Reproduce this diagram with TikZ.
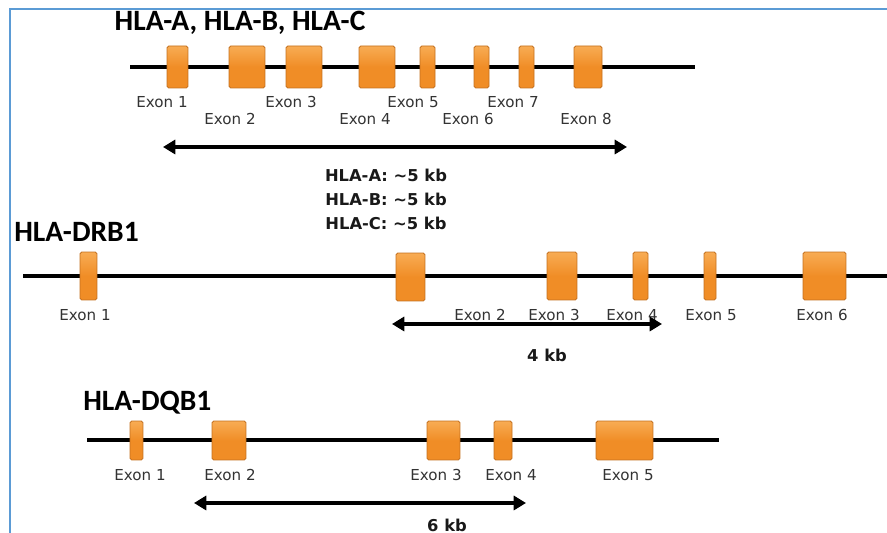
\documentclass[tikz,border=0pt]{standalone}
\usepackage{fontspec}
\setmainfont{DejaVu Sans}
\newfontfamily\titlefont{Carlito}
\usetikzlibrary{arrows.meta}
\definecolor{exonfill}{RGB}{240,141,38}
\definecolor{exonedge}{RGB}{196,112,30}
\definecolor{exonlight}{RGB}{248,172,84}
\definecolor{framecol}{RGB}{91,155,213}

\begin{document}
\begin{tikzpicture}[x=0.02cm, y=-0.02cm,
    gene/.style={line width=2.2pt},
    exon/.style={draw=exonedge, line width=0.5pt, rounded corners=1pt,
      top color=exonlight, bottom color=exonfill, middle color=exonfill,
      inner sep=0pt},
    exontop/.style={exon, minimum height=0.84cm},
    exondrb/.style={exon, minimum height=0.96cm},
    exondqb/.style={exon, minimum height=0.78cm},
    lbl/.style={font=\fontsize{8.6}{10}\selectfont, text=black!80, inner sep=0pt},
    title/.style={font=\titlefont\bfseries\fontsize{16.8}{19}\selectfont, inner sep=0pt},
    size/.style={font=\bfseries\fontsize{9.3}{11}\selectfont, text=black!90, inner sep=0pt},
    span/.style={line width=2.2pt, {Triangle[length=7pt,width=8pt]}-{Triangle[length=7pt,width=8pt]}}]
      \useasboundingbox (0,0) rectangle (887,533);

      % frame on the left and at the top
      \coordinate (f1) at (10,533);
      \coordinate (f2) at (10,9);
      \coordinate (f3) at (887,9);
      \draw[framecol, line width=1.2pt] (f1) -- (f2) -- (f3);

      % HLA-A, HLA-B, HLA-C
      \node[title] (tA) at (240,23) {HLA-A, HLA-B, HLA-C};
      \coordinate (a0) at (130,67);
      \coordinate (a9) at (695,67);
      \draw[gene] (a0) -- (a9);

      \node[exontop, minimum width=0.42cm] (a1) at (177.5,67) {};
      \node[exontop, minimum width=0.72cm] (a2) at (247,67) {};
      \node[exontop, minimum width=0.72cm] (a3) at (304,67) {};
      \node[exontop, minimum width=0.72cm] (a4) at (377,67) {};
      \node[exontop, minimum width=0.30cm] (a5) at (427.5,67) {};
      \node[exontop, minimum width=0.30cm] (a6) at (481.5,67) {};
      \node[exontop, minimum width=0.30cm] (a7) at (526.5,67) {};
      \node[exontop, minimum width=0.56cm] (a8) at (588,67) {};

      \node[lbl] (la1) at (162,102) {Exon 1};
      \node[lbl] (la2) at (230,119) {Exon 2};
      \node[lbl] (la3) at (291,102) {Exon 3};
      \node[lbl] (la4) at (365,119) {Exon 4};
      \node[lbl] (la5) at (413,102) {Exon 5};
      \node[lbl] (la6) at (468,119) {Exon 6};
      \node[lbl] (la7) at (513,102) {Exon 7};
      \node[lbl] (la8) at (586,119) {Exon 8};

      \coordinate (sa1) at (163,147);
      \coordinate (sa2) at (627,147);
      \draw[span] (sa1) -- (sa2);

      \node[size] (ka) at (386,175) {HLA-A: \char`~5 kb};
      \node[size] (kb) at (386,199) {HLA-B: \char`~5 kb};
      \node[size] (kc) at (386,223) {HLA-C: \char`~5 kb};

      % HLA-DRB1
      \node[title, anchor=west] (tD) at (14,232) {HLA-DRB1};
      \coordinate (d0) at (23,276);
      \coordinate (d9) at (887,276);
      \draw[gene] (d0) -- (d9);

      \node[exondrb, minimum width=0.34cm] (d1) at (88.5,276) {};
      \node[exondrb, minimum width=0.58cm] (d2) at (410.5,277) {};
      \node[exondrb, minimum width=0.60cm] (d3) at (562,276) {};
      \node[exondrb, minimum width=0.30cm] (d4) at (640.5,276) {};
      \node[exondrb, minimum width=0.24cm] (d5) at (710,276) {};
      \node[exondrb, minimum width=0.86cm] (d6) at (824.5,276) {};

      \node[lbl] (ld1) at (85,315) {Exon 1};
      \node[lbl] (ld2) at (480,315) {Exon 2};
      \node[lbl] (ld3) at (554,315) {Exon 3};
      \node[lbl] (ld4) at (632,315) {Exon 4};
      \node[lbl] (ld5) at (711,315) {Exon 5};
      \node[lbl] (ld6) at (822,315) {Exon 6};

      \coordinate (sd1) at (392,324);
      \coordinate (sd2) at (662,324);
      \draw[span] (sd1) -- (sd2);
      \node[size] (kd) at (547,355) {4 kb};

      % HLA-DQB1
      \node[title, anchor=west] (tQ) at (83,403) {HLA-DQB1};
      \coordinate (q0) at (87,440);
      \coordinate (q9) at (719,440);
      \draw[gene] (q0) -- (q9);

      \node[exondqb, minimum width=0.26cm] (q1) at (136.5,440.5) {};
      \node[exondqb, minimum width=0.68cm] (q2) at (229,440.5) {};
      \node[exondqb, minimum width=0.66cm] (q3) at (443.5,440.5) {};
      \node[exondqb, minimum width=0.36cm] (q4) at (503,440.5) {};
      \node[exondqb, minimum width=1.14cm] (q5) at (624.5,440.5) {};

      \node[lbl] (lq1) at (140,475) {Exon 1};
      \node[lbl] (lq2) at (230,475) {Exon 2};
      \node[lbl] (lq3) at (436,475) {Exon 3};
      \node[lbl] (lq4) at (511,475) {Exon 4};
      \node[lbl] (lq5) at (628,475) {Exon 5};

      \coordinate (sq1) at (194,503);
      \coordinate (sq2) at (526,503);
      \draw[span] (sq1) -- (sq2);
      \node[size] (kq) at (447,525) {6 kb};
    \end{tikzpicture}
\end{document}
